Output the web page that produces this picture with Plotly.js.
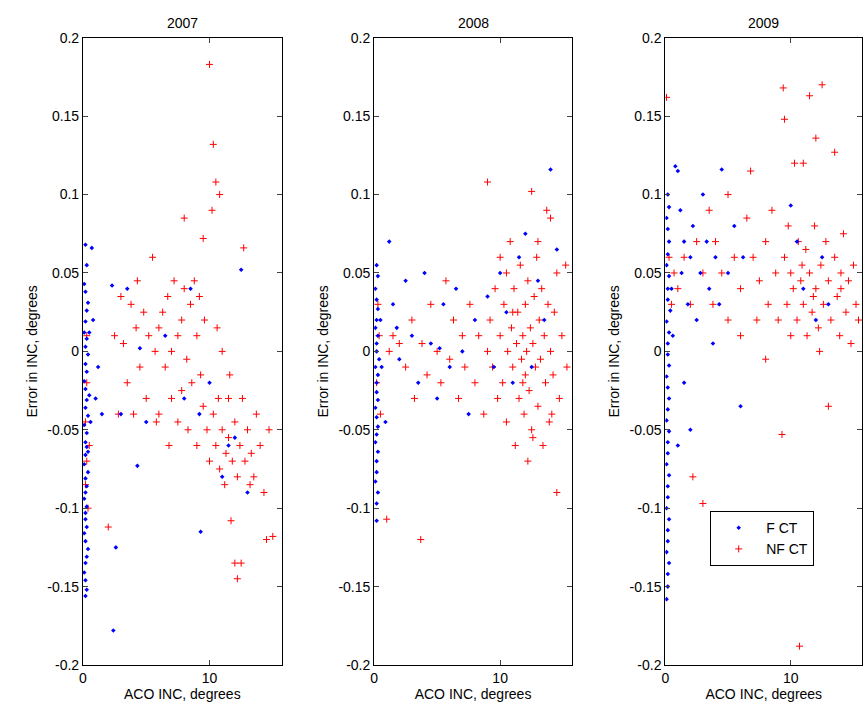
<!DOCTYPE html>
<html><head><meta charset="utf-8">
<script src="https://cdn.plot.ly/plotly-3.0.1.min.js"></script>
<style>body{margin:0;background:#fff}</style></head>
<body><div id="c" style="width:864px;height:726px"></div>
<script>
const years=["2007","2008","2009"];
const yTicks=[-0.2,-0.15,-0.1,-0.05,0,0.05,0.1,0.15,0.2];
const yTickText=["-0.2","-0.15","-0.1","-0.05","0","0.05","0.1","0.15","0.2"];
const f07=[[0.2,.068],[.3,.055],[.1,.043],[.2,.038],[.4,.031],[.3,.026],[.2,.019],[.1,.012],[.3,.008],[.2,.003],[.4,-.002],[.2,-.008],[.3,-.013],[.1,-.019],[.2,-.024],[.3,-.031],[.2,-.036],[.4,-.041],[.1,-.047],[.3,-.052],[.2,-.058],[.3,-.061],[.2,-.066],[.1,-.072],[.4,-.077],[.2,-.081],[.3,-.086],[.2,-.09],[.1,-.094],[.3,-.099],[.2,-.103],[.2,-.107],[.3,-.112],[.1,-.116],[.2,-.121],[.4,-.126],[.3,-.131],[.2,-.135],[.1,-.141],[.2,-.146],[.3,-.152],[.2,-.156],[.5,-.028],[.4,-.064],[.5,.012],[.6,-.045],[.7,.066],[.8,.02],[1,-.03],[1.5,-.04],[1.2,-.01],[2.3,.042],[2.6,-.125],[2.4,-.178],[3.5,.04],[4.3,-.073],[4.5,.002],[5,-.045],[6.5,.01],[8,-.03],[9.2,-.04],[9.3,-.115],[10,-.02],[11,-.08],[12.5,.052],[13,-.09],[11.5,-.06],[3,-.04],[8.5,.04],[12,-.055]];
const r07=[[.3,-.02],[.2,-.045],[.3,-.07],[.2,-.085],[.4,-.1],[.3,.01],[.5,-.06],[2,-.112],[2.5,.01],[2.8,-.04],[3.2,.005],[3.5,-.02],[3.8,.03],[4,-.04],[4.2,.015],[4.5,-.01],[4.8,.025],[5,-.03],[5.2,.01],[5.5,.06],[5.7,.0],[6,-.04],[6,.015],[6.3,.025],[6.5,-.01],[6.7,.035],[7,.0],[7,-.03],[7.2,.045],[7.5,.01],[7.5,-.045],[7.8,.02],[8,.085],[8,.04],[8.2,-.005],[8.3,-.05],[8.5,.03],[8.6,-.02],[8.8,.045],[9,.01],[9,-.06],[9.2,.035],[9.5,.072],[9.5,-.035],[9.6,.02],[9.8,-.05],[10,.183],[10,-.07],[10.2,.09],[10.3,.132],[10.3,-.04],[10.5,.108],[10.5,-.06],[10.6,.015],[10.8,.1],[10.8,-.075],[11,-.05],[11,.0],[11.2,-.085],[11.3,-.065],[11.5,-.03],[11.5,-.055],[11.7,-.108],[11.8,-.07],[12,-.135],[12,-.045],[12.2,-.145],[12.2,-.08],[12.4,-.06],[12.5,-.135],[12.6,-.03],[12.7,.066],[12.8,-.07],[13,-.05],[13.2,-.085],[13.3,-.065],[13.5,-.08],[13.7,-.04],[14,-.06],[14.3,-.09],[14.5,-.12],[14.7,-.05],[15,-.118],[7.8,-.025],[6.8,-.06],[9.3,-.015],[10.7,-.03],[11.6,-.015],[4.3,.045],[5.8,-.045],[3,.035]];
const f08=[[.2,.055],[.3,.048],[.1,.04],[.2,.033],[.3,.027],[.2,.02],[.1,.015],[.3,.01],[.2,.005],[.2,.0],[.4,-.005],[.1,-.01],[.3,-.015],[.2,-.02],[.2,-.026],[.3,-.031],[.1,-.036],[.2,-.042],[.3,-.048],[.2,-.053],[.1,-.058],[.3,-.064],[.2,-.07],[.2,-.077],[.1,-.083],[.3,-.09],[.2,-.097],[.2,-.108],[.5,.02],[.6,-.01],[1.2,.07],[1.5,.03],[2,-.005],[2.5,.045],[3,.01],[3.5,-.02],[4,.05],[4.5,.005],[5,-.03],[5.5,.03],[6,-.01],[6.5,.04],[7,.0],[7.5,-.04],[8,.02],[9,.035],[9.5,-.01],[10,.05],[10.5,.025],[11,-.02],[11.5,.06],[12,.075],[12.5,-.01],[13,.045],[13.5,.02],[14,.116],[14.5,.065],[0.9,-.045],[1.8,.015],[5.2,.002]];
const r08=[[.3,.03],[.2,-.02],[.4,.01],[.5,-.04],[1,-.107],[1.2,.0],[1.5,.01],[2,.005],[2.5,-.01],[3,.02],[3.2,-.03],[3.7,-.12],[3.8,.005],[4.2,-.015],[4.5,.03],[5,.0],[5.3,-.02],[5.7,.045],[6,-.005],[6.3,.02],[6.7,-.03],[7,.01],[7.2,-.01],[7.6,.03],[8,-.02],[8.3,.01],[8.7,-.04],[9,.108],[9.2,.02],[9.4,-.01],[9.6,.04],[9.8,-.03],[10,.01],[10,.06],[10.2,-.02],[10.3,.03],[10.5,-.045],[10.6,.0],[10.8,.07],[10.9,.015],[11,-.01],[11.1,.04],[11.2,-.06],[11.3,.005],[11.4,.025],[11.5,-.03],[11.6,.055],[11.7,-.005],[11.8,.01],[11.9,-.04],[12,.03],[12,-.015],[12.1,.0],[12.2,.045],[12.3,-.025],[12.4,.015],[12.5,.102],[12.5,-.05],[12.6,.005],[12.7,.035],[12.8,-.01],[12.9,.06],[13,-.035],[13.1,.02],[13.2,-.005],[13.3,.04],[13.4,-.06],[13.5,.01],[13.6,-.02],[13.7,.09],[13.8,.03],[13.9,-.045],[14,.085],[14,.0],[14.2,-.015],[14.3,.025],[14.5,-.09],[14.5,.05],[14.7,-.03],[14.9,.01],[15.2,.055],[15.3,-.01],[11,.025],[12.2,-.07],[13,.07],[10.5,.05],[11.8,-.02],[12.6,-.055],[14.1,-.04],[9,.0]];
const f09=[[.2,.1],[.3,.092],[.1,.085],[.2,.078],[.3,.07],[.2,.062],[.1,.055],[.3,.048],[.2,.04],[.2,.033],[.4,.026],[.1,.019],[.3,.012],[.2,.005],[.2,-.002],[.3,-.009],[.1,-.016],[.2,-.023],[.3,-.03],[.2,-.037],[.1,-.044],[.3,-.051],[.2,-.058],[.2,-.065],[.1,-.072],[.3,-.079],[.2,-.086],[.2,-.093],[.1,-.1],[.3,-.107],[.2,-.114],[.2,-.121],[.1,-.128],[.3,-.135],[.2,-.142],[.2,-.15],[.1,-.158],[.5,.04],[.6,.01],[.8,.118],[1,.115],[1.2,.09],[1.5,.07],[1.3,.05],[1.8,.03],[2,.06],[2.2,.08],[2.5,.02],[2.8,.05],[3,.1],[3.3,.07],[3.5,.04],[4,.06],[4.3,.03],[4.5,.116],[5,.05],[5.5,.08],[6,-.035],[6.2,.06],[1.5,-.02],[2,-.05],[1,-.06],[10,.093],[10.5,.07],[11,.04],[12,.02],[12.5,.06],[13,.03],[3.8,.005]];
const r09=[[.1,.162],[.3,.06],[.5,.03],[.7,.05],[1,.04],[1.5,.06],[2,.03],[2.2,-.08],[2.5,.07],[3,-.097],[3,.05],[3.5,.09],[3.8,.03],[4,.07],[4.5,.05],[5,.02],[5,.1],[5.5,.06],[6,.04],[6.5,.085],[6.8,.115],[7,.06],[7.3,.02],[7.5,.045],[8,.07],[8.2,.03],[8.5,.09],[8.8,.05],[9,.02],[9.3,-.053],[9.4,.168],[9.5,.148],[9.5,.06],[9.7,.03],[9.8,.08],[10,.01],[10,.05],[10.2,.04],[10.3,.12],[10.5,.02],[10.6,.07],[10.7,-.188],[10.8,.045],[11,.12],[11,.03],[11.2,.065],[11.3,.01],[11.5,.163],[11.5,.05],[11.7,.025],[11.9,.08],[12,.136],[12,.04],[12.2,.015],[12.4,.055],[12.5,.17],[12.6,.03],[12.8,.07],[13,-.035],[13,.045],[13.2,.02],[13.5,.127],[13.5,.06],[13.7,.035],[13.9,.01],[14,.05],[14.2,.075],[14.4,.025],[14.6,.045],[14.8,.005],[15,.055],[15.2,.03],[15.4,.02],[8,-.005],[6,.01],[12.3,.0],[14,.04],[11.8,.035],[10.9,.055]];

const F=[f07,f08,f09], R=[r07,r08,r09];
const doms=[[0.096,0.326],[0.433,0.662],[0.770,0.998]];
const font={family:"Liberation Sans, Arial, sans-serif",size:14,color:"#000"};
const traces=[]; const layout={width:864,height:726,margin:{l:0,r:0,t:0,b:0},paper_bgcolor:"#fff",plot_bgcolor:"#fff",font:font,
 showlegend:true,legend:{x:0.822,y:0.296,xanchor:"left",yanchor:"top",bgcolor:"#fff",bordercolor:"#000",borderwidth:1,font:{family:font.family,size:14},itemwidth:45,tracegroupgap:0},annotations:[]};
for(let i=0;i<3;i++){
  const xa=i?"x"+(i+1):"x", ya=i?"y"+(i+1):"y";
  traces.push({type:"scatter",mode:"markers",name:"NF CT",showlegend:i==0,legendrank:2,x:R[i].map(p=>p[0]),y:R[i].map(p=>p[1]),xaxis:xa,yaxis:ya,
    marker:{symbol:"cross-thin-open",size:5,color:"#ff0000",line:{color:"#ff0000",width:1}}});
  traces.push({type:"scatter",mode:"markers",name:"F CT",showlegend:i==0,legendrank:1,x:F[i].map(p=>p[0]),y:F[i].map(p=>p[1]),xaxis:xa,yaxis:ya,
    marker:{symbol:"diamond",size:3.5,color:"#0000ff"}});
  const ax={domain:doms[i],range:[0,15.7],tickvals:[0,10],ticktext:["0","10"],ticks:"inside",ticklen:5,mirror:"allticks",showline:true,linecolor:"#000",linewidth:1,showgrid:false,zeroline:false,anchor:ya,
    title:{text:"ACO INC, degrees",font:{size:14},standoff:4},tickfont:{size:14}};
  const ay={domain:[0.084,0.948],range:[-0.2,0.2],tickvals:yTicks,ticktext:yTickText,ticks:"inside",ticklen:5,mirror:"allticks",showline:true,linecolor:"#000",linewidth:1,showgrid:false,zeroline:false,anchor:xa,
    title:{text:"Error in INC, degrees",font:{size:14},standoff:6},tickfont:{size:14}};
  layout[i?"xaxis"+(i+1):"xaxis"]=ax; layout[i?"yaxis"+(i+1):"yaxis"]=ay;
  layout.annotations.push({text:years[i],xref:"paper",yref:"paper",x:(doms[i][0]+doms[i][1])/2,y:0.955,xanchor:"center",yanchor:"bottom",showarrow:false,font:{size:14}});
}
Plotly.newPlot("c",traces,layout,{displayModeBar:false});
</script></body></html>
